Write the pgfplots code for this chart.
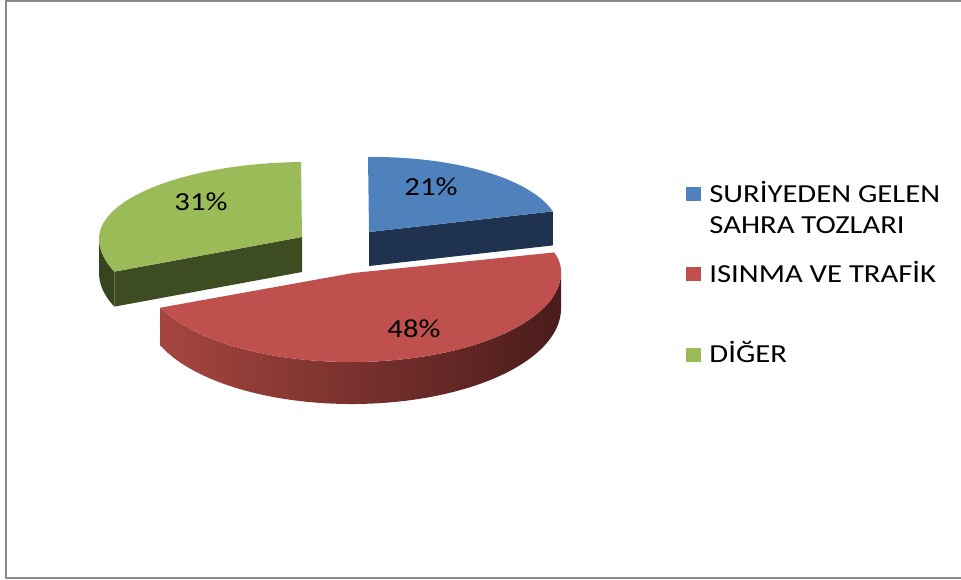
\documentclass[border=0pt]{standalone}
\usepackage{fontspec}
\setmainfont{Carlito}[FakeStretch=1.18]
\usepackage{pgfplots}
\pgfplotsset{compat=1.18}
\usepackage{pgfplotstable}

\definecolor{blueTop}{HTML}{4F81BD}
\definecolor{blueSide}{HTML}{1F3350}
\definecolor{redTop}{HTML}{C0504D}
\definecolor{redSideL}{HTML}{A6453F}
\definecolor{redSideR}{HTML}{4A1C1B}
\definecolor{greenTop}{HTML}{9BBB59}
\definecolor{greenSide}{HTML}{3E4C22}
\definecolor{frameGray}{HTML}{8C8C8C}

% value = share in percent; cx, cy = centre of the (exploded) slice, ux = horizontal radius
\pgfplotstableread{
value cx cy ux
21 369 232 190
48 353 273 208
31 302 237 203
}\piedata

\tikzset{declare function={
  vxf(\ang) = (cos(\ang) >= 0) ? -1 : -3;
  vyf(\ang) = (cos(\ang) >= 0) ? -75 : -89;
  px(\ang,\cen,\rad) = \cen + sin(\ang)*\rad + cos(\ang)*vxf(\ang);
  py(\ang,\cen) = \cen - 2*sin(\ang) + cos(\ang)*vyf(\ang);
}}

\newcommand\getv[3]{\pgfplotstablegetelem{#1}{#2}\of\piedata\edef#3{\pgfplotsretval}}

\begin{document}
\begin{tikzpicture}
\getv{0}{value}\vA \getv{0}{cx}\cxA \getv{0}{cy}\cyA \getv{0}{ux}\uxA
\getv{1}{value}\vB \getv{1}{cx}\cxB \getv{1}{cy}\cyB \getv{1}{ux}\uxB
\getv{2}{value}\vC \getv{2}{cx}\cxC \getv{2}{cy}\cyC \getv{2}{ux}\uxC
\pgfmathsetmacro\tot{\vA+\vB+\vC}
\pgfmathsetmacro\aAB{\vA/\tot*360}
\pgfmathsetmacro\aBC{(\vA+\vB)/\tot*360}
\pgfmathsetmacro\rsS{max(\aAB,90)}
\pgfmathsetmacro\rsE{min(\aBC,270)}
\begin{axis}[width=480.5pt, height=289.5pt, scale only axis,
  xmin=0, xmax=961, ymin=0, ymax=579, y dir=reverse,
  hide axis, clip=false]
% frame
\draw[frameGray, line width=1pt] (961,1) -- (6,1) -- (6,578) -- (961,578);

% ---- blue slice (SURIYEDEN GELEN SAHRA TOZLARI)
\fill[blueSide] (\cxA,\cyA) -- ({px(\aAB,\cxA,\uxA)},{py(\aAB,\cyA)})
   -- ({px(\aAB,\cxA,\uxA)},{py(\aAB,\cyA)+34}) -- (\cxA,{\cyA+34}) -- cycle;
\fill[blueTop] (\cxA,\cyA) -- plot[domain=0:\aAB, samples=60, variable=\t]
   ({px(\t,\cxA,\uxA)},{py(\t,\cyA)}) -- cycle;

% ---- green slice (DIGER)
\fill[greenSide] (\cxC,\cyC) -- ({px(\aBC,\cxC,\uxC)},{py(\aBC,\cyC)})
   -- ({px(\aBC,\cxC,\uxC)},{py(\aBC,\cyC)+35}) -- (\cxC,{\cyC+35}) -- cycle;
\fill[greenSide!90!black] plot[domain=\aBC:270, samples=20, variable=\t]
   ({px(\t,\cxC,\uxC)},{py(\t,\cyC)})
   -- plot[domain=270:\aBC, samples=20, variable=\t]
   ({px(\t,\cxC,\uxC)},{py(\t,\cyC)+35}) -- cycle;
\fill[greenTop] (\cxC,\cyC) -- plot[domain=\aBC:360, samples=60, variable=\t]
   ({px(\t,\cxC,\uxC)},{py(\t,\cyC)}) -- cycle;

% ---- red slice (ISINMA VE TRAFIK)
\shade[left color=redSideL, right color=redSideR]
   plot[domain=\rsS:\rsE, samples=80, variable=\t]
   ({px(\t,\cxB,\uxB)},{py(\t,\cyB)})
   -- plot[domain=\rsE:\rsS, samples=80, variable=\t]
   ({px(\t,\cxB,\uxB)},{py(\t,\cyB)+36-6*cos(\t)}) -- cycle;
\fill[redTop] (\cxB,\cyB) -- plot[domain=\aAB:\aBC, samples=100, variable=\t]
   ({px(\t,\cxB,\uxB)},{py(\t,\cyB)}) -- cycle;

% ---- data labels
\begin{scope}[every node/.style={inner sep=0pt, font=\fontsize{13}{15}\selectfont}]
\node[anchor=base] at (431,195) {21\%};
\node[anchor=base] at (414,337) {48\%};
\node[anchor=base] at (201,210) {31\%};
% ---- legend
\fill[blueTop]  (686,187) rectangle (701,201);
\fill[redTop]   (686,267) rectangle (701,281);
\fill[greenTop] (686,348) rectangle (701,362);
\node[anchor=base west] at (709,202) {SURİYEDEN GELEN};
\node[anchor=base west] at (709,233) {SAHRA TOZLARI};
\node[anchor=base west] at (709,282) {ISINMA VE TRAFİK};
\node[anchor=base west] at (709,362) {DİĞER};
\end{scope}
\end{axis}
\pgfresetboundingbox
\useasboundingbox (current axis.south west) rectangle (current axis.north east);
\end{tikzpicture}
\end{document}
